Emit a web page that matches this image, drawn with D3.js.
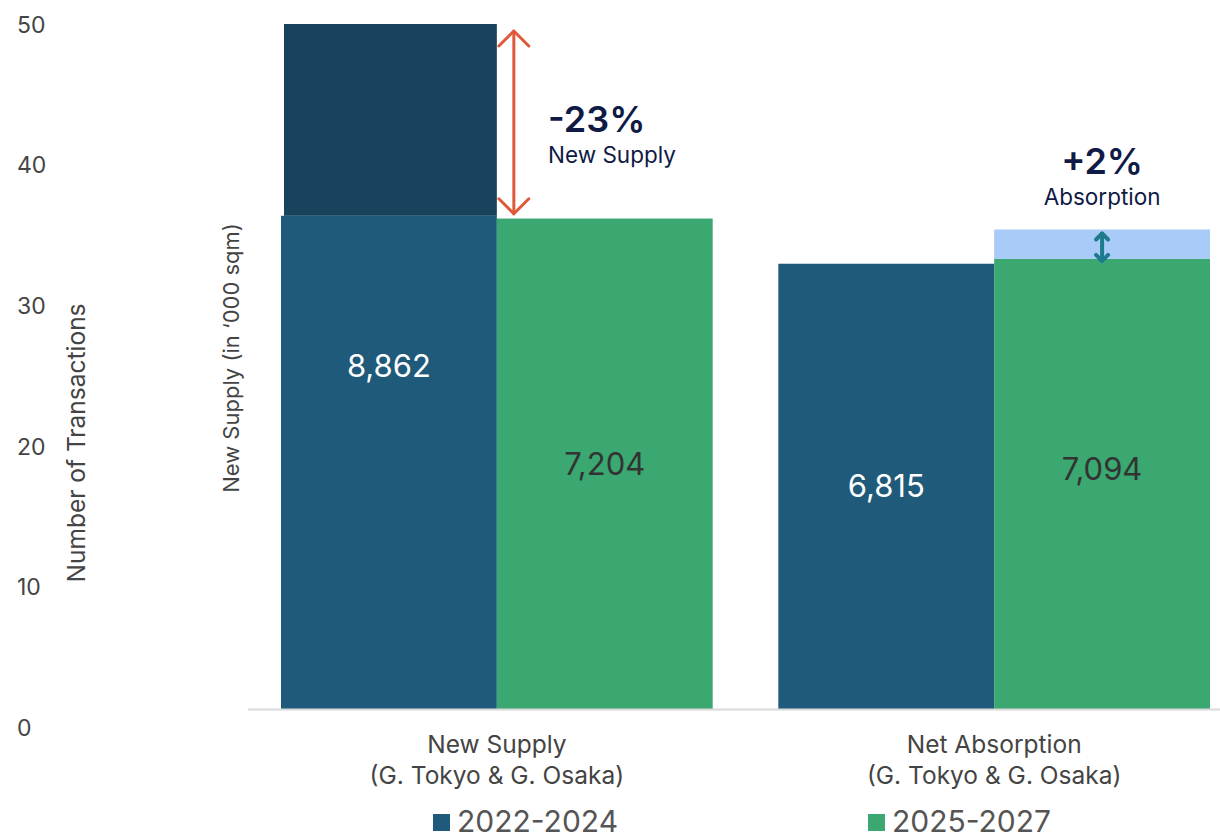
<!DOCTYPE html>
<html>
<head>
<meta charset="utf-8">
<script src="https://cdn.jsdelivr.net/npm/d3@7"></script>
<style>
  body { margin: 0; background: #fff; }
  svg text { font-family: "Inter", "Liberation Sans", sans-serif; }
</style>
</head>
<body>
<div id="root"></div>
<script>
// chart data
const categories = ["New Supply", "Net Absorption"];
const categorySubLabels = ["(G. Tokyo & G. Osaka)", "(G. Tokyo & G. Osaka)"];
const periods = ["2022-2024", "2025-2027"];
// bar levels in the chart's 0-50 display units
const levels2022 = [36, 32.5];
const levels2025 = [35.8, 32.85];
const valueLabels2022 = ["8,862", "6,815"];
const valueLabels2025 = ["7,204", "7,094"];
// highlighted difference blocks: [category, period, from, to]
const highlights = [
  { category: "New Supply", period: "2022-2024", from: 36, to: 50 },
  { category: "Net Absorption", period: "2025-2027", from: 32.85, to: 35 }
];
const changeLabels = [
  { category: "New Supply", value: "-23%", text: "New Supply" },
  { category: "Net Absorption", value: "+2%", text: "Absorption" }
];
const yTicks = [0, 10, 20, 30, 40, 50];

const width = 1220, height = 835;
const colors = { "2022-2024": "#1f5a7a", "2025-2027": "#3aa870" };
const highlightColors = { "2022-2024": "#17435c", "2025-2027": "#a8cbf8" };

const svg = d3.select("#root")
  .append("svg")
  .attr("width", width)
  .attr("height", height)
  .attr("viewBox", [0, 0, width, height]);

// left axis (number of transactions)
const yAxisScale = d3.scaleLinear().domain([0, 50]).range([728, 25]);
const yAxis = svg.append("g")
  .attr("transform", "translate(17,0)")
  .call(d3.axisLeft(yAxisScale).tickValues(yTicks).tickSize(0).tickPadding(0));
yAxis.select(".domain").remove();
yAxis.selectAll("text")
  .attr("text-anchor", "start")
  .attr("x", 0)
  .attr("fill", "#444")
  .style("font-size", "23px")
  .style("font-family", "Inter, sans-serif");

// bar scales
const barScale = d3.scaleLinear().domain([0, 50]).range([709, 24]);
const xScale = d3.scaleBand()
  .domain(categories)
  .range([281, 1210])
  .paddingInner(0.132)
  .paddingOuter(0);
const xSub = d3.scaleBand()
  .domain(periods)
  .range([0, xScale.bandwidth()]);

const rows = [];
categories.forEach((c, i) => {
  rows.push({ category: c, period: periods[0], level: levels2022[i], label: valueLabels2022[i] });
  rows.push({ category: c, period: periods[1], level: levels2025[i], label: valueLabels2025[i] });
});

const barX = (d) => xScale(d.category) + xSub(d.period);

// bars
svg.append("g")
  .selectAll("rect")
  .data(rows)
  .join("rect")
  .attr("x", barX)
  .attr("y", (d) => barScale(d.level))
  .attr("width", xSub.bandwidth())
  .attr("height", (d) => barScale(0) - barScale(d.level))
  .attr("fill", (d) => colors[d.period]);

// difference blocks
svg.append("g")
  .selectAll("rect")
  .data(highlights)
  .join("rect")
  .attr("x", (d) => barX(d) + (d.period === periods[0] ? 3 : 0))
  .attr("y", (d) => barScale(d.to))
  .attr("width", (d) => xSub.bandwidth() - (d.period === periods[0] ? 3 : 0))
  .attr("height", (d) => barScale(d.from) - barScale(d.to))
  .attr("fill", (d) => highlightColors[d.period]);

// baseline
svg.append("line")
  .attr("x1", 248).attr("x2", width)
  .attr("y1", barScale(0) + 0.5).attr("y2", barScale(0) + 0.5)
  .attr("stroke", "#d9d9d9")
  .attr("stroke-width", 2);

// value labels in the middle of each full bar
const topOf = (d) => {
  const h = highlights.find((o) => o.category === d.category && o.period === d.period);
  return h ? Math.max(h.to, d.level) : d.level;
};
svg.append("g")
  .selectAll("text")
  .data(rows)
  .join("text")
  .attr("x", (d) => barX(d) + xSub.bandwidth() / 2)
  .attr("y", (d) => (barScale(0) + barScale(topOf(d))) / 2)
  .attr("dy", "0.35em")
  .attr("text-anchor", "middle")
  .attr("fill", (d) => d.period === periods[0] ? "#fff" : "#333")
  .style("font-size", "31px")
  .text((d) => d.label);

// arrows
function drawArrow(x, y1, y2, color, head, strokeWidth) {
  const g = svg.append("g")
    .attr("stroke", color)
    .attr("stroke-width", strokeWidth)
    .attr("fill", "none")
    .attr("stroke-linecap", "round")
    .attr("stroke-linejoin", "round");
  g.append("line").attr("x1", x).attr("x2", x).attr("y1", y1).attr("y2", y2);
  g.append("path").attr("d", `M${x - head},${y1 + head} L${x},${y1} L${x + head},${y1 + head}`);
  g.append("path").attr("d", `M${x - head},${y2 - head} L${x},${y2} L${x + head},${y2 - head}`);
}
const ns = highlights[0], na = highlights[1];
drawArrow(xScale(ns.category) + xSub.bandwidth() + 17, barScale(ns.to) + 7, barScale(ns.from) - 2, "#e0583a", 15, 3);
drawArrow(xScale(na.category) + xSub(na.period) + xSub.bandwidth() / 2, barScale(na.to) + 4, barScale(na.from) + 2, "#1e7a8c", 6, 4);

// change annotations
const ann = svg.append("g").attr("fill", "#0f1a45");
ann.append("text")
  .attr("x", 548).attr("y", 132)
  .style("font-size", "36px").style("font-weight", "600")
  .text(changeLabels[0].value);
ann.append("text")
  .attr("x", 548).attr("y", 163)
  .style("font-size", "22.5px")
  .text(changeLabels[0].text);
const naCx = xScale(na.category) + xSub(na.period) + xSub.bandwidth() / 2;
ann.append("text")
  .attr("x", naCx).attr("y", 174).attr("text-anchor", "middle")
  .style("font-size", "36px").style("font-weight", "600")
  .text(changeLabels[1].value);
ann.append("text")
  .attr("x", naCx).attr("y", 205).attr("text-anchor", "middle")
  .style("font-size", "22.5px")
  .text(changeLabels[1].text);

// category labels
const catG = svg.append("g").attr("fill", "#444").attr("text-anchor", "middle");
categories.forEach((c, i) => {
  const cx = xScale(c) + xScale.bandwidth() / 2;
  catG.append("text").attr("x", cx).attr("y", 753).style("font-size", "24.5px").text(c);
  catG.append("text").attr("x", cx).attr("y", 784).style("font-size", "24.5px").text(categorySubLabels[i]);
});

// axis titles
svg.append("text")
  .attr("transform", "translate(85,443) rotate(-90)")
  .attr("text-anchor", "middle")
  .attr("fill", "#444")
  .style("font-size", "24.5px")
  .text("Number of Transactions");
svg.append("text")
  .attr("transform", "translate(239,358) rotate(-90)")
  .attr("text-anchor", "middle")
  .attr("fill", "#444")
  .style("font-size", "22px")
  .text("New  Supply (in \u2018000 sqm)");

// legend
const legendX = [433, 868];
const legend = svg.append("g")
  .selectAll("g")
  .data(periods)
  .join("g")
  .attr("transform", (d, i) => `translate(${legendX[i]},814)`);
legend.append("rect")
  .attr("width", 17).attr("height", 17)
  .attr("fill", (d) => colors[d]);
legend.append("text")
  .attr("x", 24).attr("y", 18)
  .attr("fill", "#555")
  .style("font-size", "30px")
  .text((d) => d);
</script>
</body>
</html>
